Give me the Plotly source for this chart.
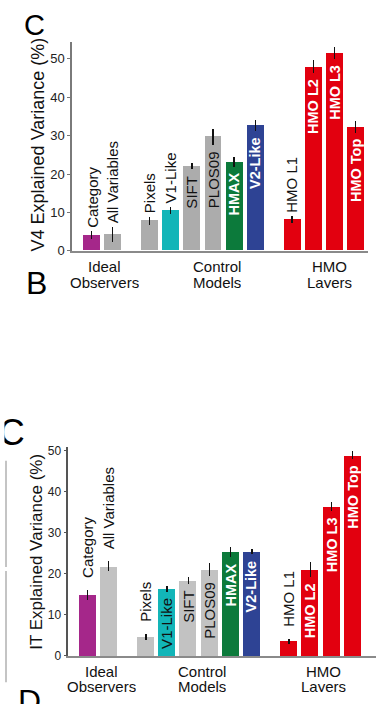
import plotly.graph_objects as go

# ---- data -------------------------------------------------------------
categories = ["Category", "All Variables", "Pixels", "V1-Like", "SIFT", "PLOS09",
              "HMAX", "V2-Like", "HMO L1", "HMO L2", "HMO L3", "HMO Top"]
positions = [0, 1, 2.75, 3.75, 4.75, 5.75, 6.75, 7.75, 9.5, 10.5, 11.5, 12.5]

v4_values = [4.1, 4.3, 7.8, 10.5, 22.0, 29.7, 23.1, 32.7, 8.1, 47.9, 51.5, 32.2]
v4_errors = [1.0, 1.9, 1.0, 1.0, 0.8, 2.1, 1.3, 1.5, 0.9, 1.7, 1.6, 1.6]

it_values = [14.8, 21.8, 4.6, 16.3, 18.3, 21.0, 25.3, 25.4, 3.6, 21.0, 36.3, 48.8]
it_errors = [1.3, 1.2, 0.8, 0.8, 0.8, 1.5, 1.3, 0.7, 0.6, 1.9, 1.1, 1.0]

group_lines = [("Ideal", "Observers"), ("Control", "Models"), ("HMO", "Layers")]
y_ticks = [0, 10, 20, 30, 40, 50]

# ---- styling ----------------------------------------------------------
W, H = 376, 704
FONT = "Liberation Sans, Arial, Helvetica, sans-serif"

PURPLE, TEAL, GREEN, BLUE, RED = "#a5278a", "#12b5b8", "#0c7a3b", "#2e4394", "#e2000f"


def bar_colors(grey):
    return [PURPLE, grey, grey, TEAL, grey, grey, GREEN, BLUE, RED, RED, RED, RED]


# label drawn inside the bar (True) or above it (False)
v4_inside = [False, False, False, False, True, True, True, True, False, True, True, True]
it_inside = [False, False, False, True, True, True, True, True, False, True, True, True]
# bold white lettering on the dark bars
white_label = [False, False, False, False, False, False, True, True, False, True, True, True]


def px(xp):
    return xp / W


def py(yp):
    return 1 - yp / H


panels = [
    dict(values=v4_values, errors=v4_errors, inside=v4_inside, grey="#acacac",
         xa="x", ya="y", title="V4 Explained Variance (%)", title_size=18,
         title_pos=(37.5, 144.2), pad_out=0.4, pad_in=1.0,
         group_x=[0.63, 5.96, 11.28], group_rows=(267.5, 283.0)),
    dict(values=it_values, errors=it_errors, inside=it_inside, grey="#c2c2c2",
         xa="x2", ya="y2", title="IT Explained Variance (%)", title_size=17,
         title_pos=(37.0, 557.5), pad_out=2.4, pad_in=1.0,
         group_x=[0.64, 5.40, 11.13], group_rows=(678.5, 694.0)),
]

fig = go.Figure()
annotations = []

for p in panels:
    fig.add_trace(go.Bar(
        x=positions, y=p["values"], width=0.8,
        marker=dict(color=bar_colors(p["grey"]), line=dict(width=0)),
        error_y=dict(type="data", array=p["errors"], visible=True,
                     color="#111111", thickness=1.3, width=0),
        xaxis=p["xa"], yaxis=p["ya"], hoverinfo="skip",
    ))

    # rotated bar names
    for xpos, name, val, err, ins, wht in zip(positions, categories, p["values"],
                                              p["errors"], p["inside"], white_label):
        if ins:
            y_lab, anchor = val - err - p["pad_in"], "top"
        else:
            y_lab, anchor = val + err + p["pad_out"], "bottom"
        annotations.append(dict(
            x=xpos, y=y_lab, xref=p["xa"], yref=p["ya"], text=name,
            textangle=-90, showarrow=False, xanchor="center", yanchor=anchor,
            font=dict(family=FONT, size=14.5 if wht else 15,
                      color="white" if wht else "#111111",
                      weight="bold" if wht else "normal"),
        ))

    # group captions under the axis (two tightly spaced lines)
    for gx, (l1, l2) in zip(p["group_x"], group_lines):
        for txt, row in zip((l1, l2), p["group_rows"]):
            annotations.append(dict(
                x=gx, y=py(row), xref=p["xa"], yref="paper", text=txt,
                showarrow=False, xanchor="center", yanchor="middle",
                height=12, borderpad=0, borderwidth=0,
                font=dict(family=FONT, size=15, color="#111111"),
            ))

    # y-axis title
    tx, ty = p["title_pos"]
    annotations.append(dict(
        x=px(tx), y=py(ty), xref="paper", yref="paper", text=p["title"],
        textangle=-90, showarrow=False, xanchor="center", yanchor="middle",
        font=dict(family=FONT, size=p["title_size"], color="#111111"),
    ))

# panel letters: (letter, font size, glyph left edge, cap top) in page pixels
for letter, size, gl, ytop in [("C", 29, 26.0, 12.0), ("B", 32, 28.0, 272.0),
                               ("D", 32, 20.0, 697.0)]:
    annotations.append(dict(
        x=px(gl - 2 - 0.07 * size), y=py(ytop - 2 - 0.189 * size),
        xref="paper", yref="paper", text=letter,
        showarrow=False, xanchor="left", yanchor="top",
        font=dict(family=FONT, size=size, color="#000000"),
    ))

# lower panel letter, clipped at its left side by a small hidden subplot
fig.add_trace(go.Scatter(
    x=[7.2], y=[440], mode="text", text=["C"], textposition="middle center",
    textfont=dict(family=FONT, size=36, color="#000000"),
    xaxis="x3", yaxis="y3", cliponaxis=True, hoverinfo="skip",
))

axis_common = dict(showgrid=False, zeroline=False, showline=True, linewidth=1.5)

fig.update_layout(
    width=W, height=H, margin=dict(l=0, r=0, t=0, b=0),
    paper_bgcolor="white", plot_bgcolor="white", showlegend=False,
    bargap=0,
    xaxis=dict(domain=[px(72), px(368)], range=[-0.934, 13.1], anchor="y",
               showticklabels=False, ticks="", linecolor="#8a8a8a", **axis_common),
    yaxis=dict(domain=[py(251.7), py(40)], range=[0, 54.3], anchor="x",
               tickvals=y_ticks, ticks="outside", ticklen=3, tickcolor="#777777",
               linecolor="#7a7a7a",
               tickfont=dict(family=FONT, size=13, color="#222222"), **axis_common),
    xaxis2=dict(domain=[px(68.3), 1.0], range=[-0.906, 13.6], anchor="y2",
                showticklabels=False, ticks="", linecolor="#8a8a8a", **axis_common),
    yaxis2=dict(domain=[py(663.3), py(450.7)], range=[0, 50.9], anchor="x2",
                tickvals=y_ticks, ticks="outside", ticklen=3, tickcolor="#555555",
                linecolor="#555555",
                tickfont=dict(family=FONT, size=12, color="#222222"), **axis_common),
    xaxis3=dict(domain=[px(4.5), px(40)], range=[0, 35.5], anchor="y3", visible=False),
    yaxis3=dict(domain=[py(470), py(412)], range=[470, 412], anchor="x3", visible=False),
    annotations=annotations,
    shapes=[
        # thin grey rule along the left edge of the lower panel
        dict(type="line", xref="paper", yref="paper", x0=px(6), x1=px(6),
             y0=py(465), y1=py(573), line=dict(color="#c4c4c4", width=2)),
        dict(type="line", xref="paper", yref="paper", x0=px(6), x1=px(6),
             y0=py(577), y1=py(690), line=dict(color="#c4c4c4", width=2)),
    ],
)

fig.write_html("out.html")
